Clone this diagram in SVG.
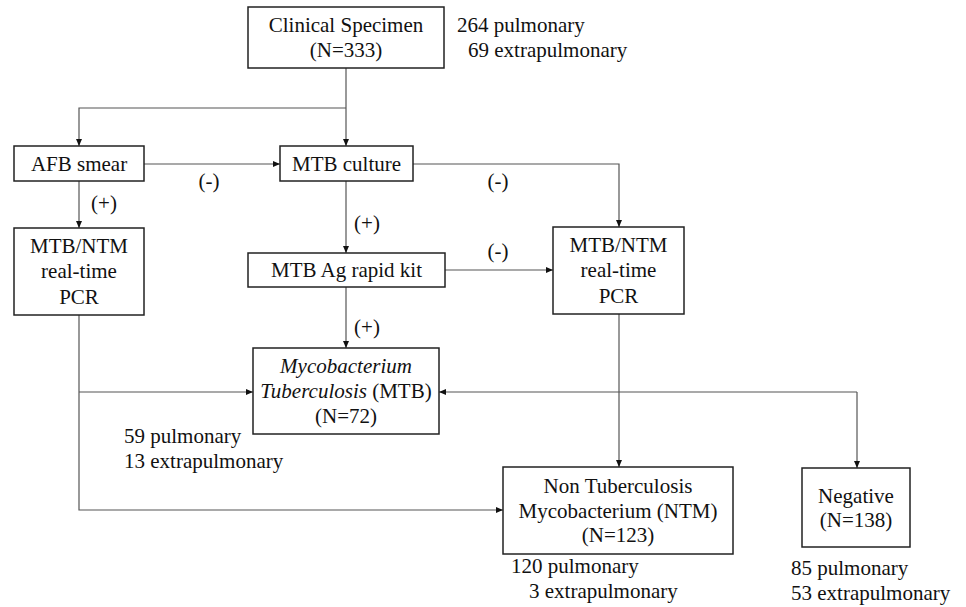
<svg xmlns="http://www.w3.org/2000/svg" width="966" height="607" viewBox="0 0 966 607">
<style>
text{font-family:"Liberation Serif","Times New Roman",serif;font-size:21px;fill:#111}
.c{text-anchor:middle}
.box{fill:#fff;stroke:#222;stroke-width:1.5}
.ln{fill:none;stroke:#555;stroke-width:1.2}
.it{font-style:italic}
</style>
<defs>
<marker id="ah" markerUnits="userSpaceOnUse" markerWidth="8" markerHeight="7" refX="7" refY="3" orient="auto">
<path d="M0,0 L7,3 L0,6 z" fill="#111"/>
</marker>
</defs>
<g id="connectors">
<path class="ln" d="M346,68 V146" marker-end="url(#ah)"/>
<path class="ln" d="M346,108 H79 V146" marker-end="url(#ah)"/>
<path class="ln" d="M144,164 H280" marker-end="url(#ah)"/>
<path class="ln" d="M79,181 V228" marker-end="url(#ah)"/>
<path class="ln" d="M413,164 H619 V227" marker-end="url(#ah)"/>
<path class="ln" d="M346,181 V253" marker-end="url(#ah)"/>
<path class="ln" d="M445,270 H553" marker-end="url(#ah)"/>
<path class="ln" d="M346,287 V348" marker-end="url(#ah)"/>
<path class="ln" d="M79,315 V510 H503" marker-end="url(#ah)"/>
<path class="ln" d="M79,392 H253" marker-end="url(#ah)"/>
<path class="ln" d="M619,314 V467" marker-end="url(#ah)"/>
<path class="ln" d="M857,392 H439" marker-end="url(#ah)"/>
<path class="ln" d="M857,392 V468" marker-end="url(#ah)"/>
<text class="c" x="209" y="188">(-)</text>
<text class="c" x="104" y="210">(+)</text>
<text class="c" x="498" y="188">(-)</text>
<text class="c" x="367" y="230">(+)</text>
<text class="c" x="498" y="258">(-)</text>
<text class="c" x="367" y="334">(+)</text>
</g>
<g id="specimen">
<rect class="box" x="248" y="7" width="196" height="61"/>
<text class="c" x="346" y="32">Clinical Specimen</text>
<text class="c" x="346" y="57">(N=333)</text>
<text x="457" y="32">264 pulmonary</text>
<text x="468" y="57">69 extrapulmonary</text>
</g>
<g id="afb">
<rect class="box" x="14" y="146" width="130" height="35"/>
<text class="c" x="79" y="171">AFB smear</text>
</g>
<g id="culture">
<rect class="box" x="280" y="146" width="133" height="35"/>
<text class="c" x="346.5" y="171">MTB culture</text>
</g>
<g id="pcr-left">
<rect class="box" x="14" y="228" width="130" height="87"/>
<text class="c" x="79" y="253">MTB/NTM</text>
<text class="c" x="79" y="278">real-time</text>
<text class="c" x="79" y="304">PCR</text>
</g>
<g id="agkit">
<rect class="box" x="248" y="253" width="197" height="34"/>
<text class="c" x="346.5" y="277">MTB Ag rapid kit</text>
</g>
<g id="pcr-right">
<rect class="box" x="553" y="227" width="131" height="87"/>
<text class="c" x="618.5" y="252">MTB/NTM</text>
<text class="c" x="618.5" y="277">real-time</text>
<text class="c" x="618.5" y="303">PCR</text>
</g>
<g id="mtb">
<rect class="box" x="253" y="348" width="186" height="86"/>
<text class="c it" x="346" y="373">Mycobacterium</text>
<text class="c" x="346" y="398"><tspan class="it">Tuberculosis</tspan> (MTB)</text>
<text class="c" x="346" y="423">(N=72)</text>
<text x="124" y="443">59 pulmonary</text>
<text x="124" y="468">13 extrapulmonary</text>
</g>
<g id="ntm">
<rect class="box" x="503" y="467" width="230" height="87"/>
<text class="c" x="618" y="493">Non Tuberculosis</text>
<text class="c" x="618" y="518">Mycobacterium (NTM)</text>
<text class="c" x="618" y="542">(N=123)</text>
<text x="511" y="573">120 pulmonary</text>
<text x="529" y="598">3 extrapulmonary</text>
</g>
<g id="negative">
<rect class="box" x="802" y="468" width="108" height="79"/>
<text class="c" x="856" y="503">Negative</text>
<text class="c" x="856" y="527">(N=138)</text>
<text x="791" y="575">85 pulmonary</text>
<text x="791" y="600">53 extrapulmonary</text>
</g>
</svg>
